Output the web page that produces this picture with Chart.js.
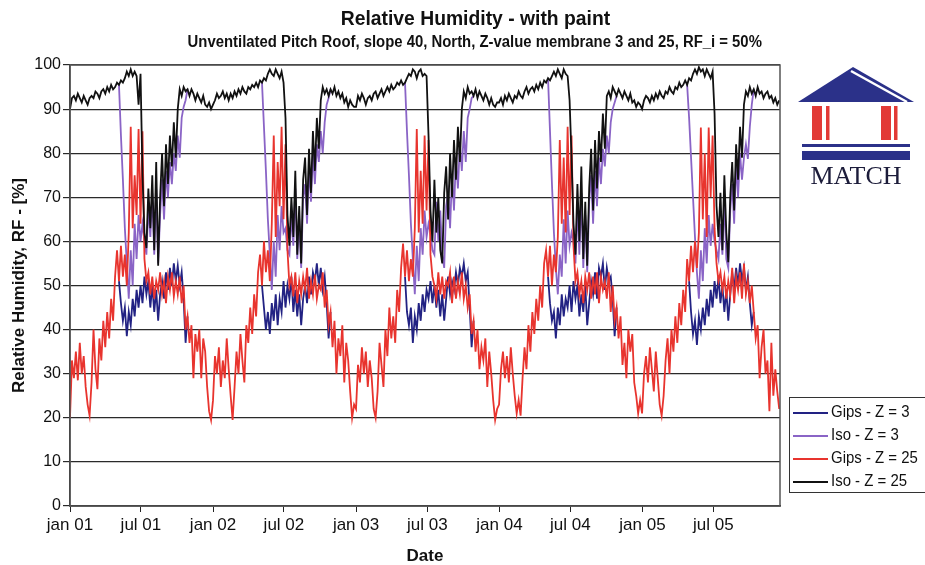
<!DOCTYPE html>
<html>
<head>
<meta charset="utf-8">
<script src="https://cdn.jsdelivr.net/npm/chart.js@4.4.1/dist/chart.umd.min.js"></script>
<style>
  body { margin: 0; background: #fff; }
  #wrap { position: relative; width: 925px; height: 565px; overflow: hidden; background: #fff;
          font-family: "Liberation Sans", Arial, sans-serif; color: #111; }
  #chart { position: absolute; left: 0; top: 0; }
  .title { position: absolute; left: 0; width: 950px; text-align: center; font-weight: bold; white-space: nowrap; }
  .title b { display: inline-block; }
  #t1 { top: 5px; font-size: 21px; line-height: 25px; }
  #t1 b { transform: scaleX(0.92); }
  #t2 { top: 32px; font-size: 16px; line-height: 19px; }
  #t2 b { transform: scaleX(0.93); }
  #legend { position: absolute; left: 789px; top: 397px; width: 150px; height: 96px; border: 1px solid #333;
            box-sizing: border-box; }
  .item { position: absolute; left: 3px; height: 20px; font-size: 17px; line-height: 20px; white-space: nowrap; }
  .item i { display: inline-block; width: 35px; height: 2px; vertical-align: middle; margin-right: 3px; }
  .item em { font-style: normal; display: inline-block; transform: scaleX(0.88); transform-origin: left center; }
  #logo { position: absolute; left: 0; top: 0; pointer-events: none; }
</style>
</head>
<body>
<div id="wrap">
  <canvas id="chart" width="925" height="565"></canvas>
  <div class="title" id="t1"><b>Relative Humidity - with paint</b></div>
  <div class="title" id="t2"><b>Unventilated Pitch Roof, slope 40, North, Z-value membrane 3 and 25, RF_i = 50%</b></div>
  <div id="legend"></div>
  <svg id="logo" width="925" height="565">
    <polygon points="798,102 853,67 914,102" fill="#2b3189"/>
    <line x1="851" y1="71" x2="907" y2="102" stroke="#fff" stroke-width="2.5"/>
    <rect x="812" y="106" width="10" height="34" fill="#e23a36"/>
    <rect x="826" y="106" width="3.5" height="34" fill="#e23a36"/>
    <rect x="881" y="106" width="10" height="34" fill="#e23a36"/>
    <rect x="894" y="106" width="3.5" height="34" fill="#e23a36"/>
    <rect x="802" y="144" width="108" height="3" fill="#2b3189"/>
    <rect x="802" y="151" width="108" height="9" fill="#2b3189"/>
    <text x="856" y="184" text-anchor="middle" font-family="Liberation Serif, serif" font-size="26" fill="#1c1c3a">MATCH</text>
  </svg>
</div>
<script>
// sampling step of the series, in days from 1 jan 01
const STEP = 5;

// x axis ticks (days from 1 jan 01) and their labels
const tickDays = [0, 181, 365, 546, 730, 912, 1096, 1277, 1461, 1642];
const tickLabels = ['jan 01', 'jul 01', 'jan 02', 'jul 02', 'jan 03', 'jul 03', 'jan 04', 'jul 04', 'jan 05', 'jul 05'];

const seriesNames = ['Gips - Z = 3', 'Iso - Z = 3', 'Gips - Z = 25', 'Iso - Z = 25'];
const seriesColors = ['#222283', '#8a64c6', '#e8342e', '#111111'];

// Iso - Z = 25 (black), one row per year
const isoZ25 = [
  90,92.5,93,92,93.5,92.5,91.5,93,92,91, 92.5,93,92.5,94,93.5,92.5,94,94.5,93.5,95, 94,95.5,94.5,95,96,95.5,96.5,96,97,98.5, 97.5,99,97.5,98.5,97.5,91,98,75,62,58.5, 72,63,75,58,78,54.5,70,80,68,82, 73,84,77,87,79,90,94.5,93,95,94, 94.5,93,94.5,93.5,92,93.5,92.5,91.5,93,91, 90.5,91.5,90,
  91,92,93.5,92.5,93,94,92.5,93.5,92,93.5, 92.5,94,93,94.5,93.5,95,94,93.5,95,94.5, 95.5,95,96,95,96.5,96,97,96.5,98,99, 98,97.5,99,98,97,98.5,96,88,66,59, 70,61,76,57,68,55,74,79,66,81, 71,85,76,88,81,92,95,93.5,94.5,93, 94.5,93.5,95,93,94,92.5,93.5,91.5,92.5,90.5, 92,91,90.5,
  90.5,93,92,93.5,92.5,91,92.5,93,92,93.5, 94,92.5,93.5,94.5,93,94,95,94,95.5,94.5, 95,96,95.5,96.5,95.5,96,97,98,97.5,99, 98.5,97,98.5,99,97.5,98,97.5,84,67,60, 74,62,70,58,55,71,77,65,80,70, 83,74,86,78,90,94,92.5,95,93.5,94, 93,94.5,92.5,94,93,92,93.5,92.5,91,92.5, 91,90.5,91.5,
  91.5,92.5,91,93,92,93.5,92.5,91.5,93,92.5, 94,93,92.5,94,95,93.5,94.5,95,94,95.5, 94.5,96,95,96.5,96,97,96.5,97.5,98.5,97.5, 99,98,97,99,98,97.5,92,79,64,57, 73,60,77,56,69,54.5,72,81,67,83, 72,85,78,89,81,93,94,92.5,95,94, 93,94.5,93.5,92.5,94,93,92,93.5,91.5,92, 90.5,91.5,91,
  90,92,93,92.5,91.5,93,92,93.5,92.5,94, 93,92.5,94,93.5,95,94,93.5,95,94.5,96, 95,95.5,96.5,95.5,97,96.5,98,99,98,99.5, 98.5,99,97.5,99,98,97,98.5,89,68,61, 71,58,75,62,55.3,70,78,67,82,74, 86,79,91,94,93,95,93.5,94.5,93,95, 93.5,94,92.5,93.5,94,92.5,93,91.5,92.5,91, 92
];

// Iso - Z = 3 (purple); null where it lies under Iso - Z = 25
const isoZ3 = [
  null,null,null,null,null,null,null,null,null,null, null,null,null,null,null,null,null,null,null,null, null,null,null,null,null,95.5,84,74,63,55, 47,58,50,64,56,66,60,64,60,57, 68,61,71,57,72,55,66,74,65,76, 70,78,73,80,76,84,79,88,90.5,92, 94.5,null,null,null,null,null,null,null,null,null, null,null,null,
  null,null,null,null,null,null,null,null,null,null, null,null,null,null,null,null,null,null,null,null, null,null,null,null,null,96,86,76,65,57, 49,60,52,66,58,68,62,63,58,57, 66,59,72,56,65,54,70,73,64,77, 69,80,73,82,78,85,80,87,91,92.5, 94.5,null,null,null,null,null,null,null,null,null, null,null,null,
  null,null,null,null,null,null,null,null,null,null, null,null,null,null,null,null,null,null,null,null, null,null,null,null,null,96,85,75,64,56, 48,59,51,63,57,67,61,64,62,58, 57,69,60,67,57,54,68,71,63,75, 67,79,72,82,76,85,78,88,90,92.5, 93,null,null,null,null,null,null,null,null,null, null,null,null,
  null,null,null,null,null,null,null,null,null,null, null,null,null,null,null,null,null,null,null,null, null,null,null,null,null,97,85,73,62,54, 48,57,52,65,55,67,59,62,60,55, 68,57,71,54,66,53,69,75,64,76, 68,79,73,81,77,84,80,87,90,91.5, 93,null,null,null,null,null,null,null,null,null, null,null,null,
  null,null,null,null,null,null,null,null,null,null, null,null,null,null,null,null,null,null,null,null, null,null,null,95.5,88,79,70,61,53,47, 58,51,63,55,66,59,64,60,58,56, 64,57,70,56,54,67,73,64,78,70, 80,74,79,82,78.7,86,91,94.5,null,null, null,null,null,null,null,null,null,null,null,null, null
];

// Gips - Z = 25 (red)
const gipsZ25 = [
  20,33,29,35,28.5,37,30,34,27,23, 20.5,28,40,31,26.5,38,33,42,36,44, 38,47,42,52,58,51,59,52,57,50, 62,86,63,75,66,85.5,64,85,56,51, 53,48,52,47,51,49,53,48,51,46, 52,49,53,47.5,51,48,52,46,50,40, 43,37,41,29,39,35,40,29,38,35, 27,21.5,19.5,
  24,34,30,36,27,33,29,38,31,25, 19.5,27,35,30,39,33,28,41,37,45, 39,48,43,53,57,50,60,53,58,51, 64,84,61,78,68,86,65,82,58,50, 52,47.5,53,46,51,48,52,49,54,47, 51,48,52.5,47,50,49,53,45,49,41, 44,36,42,30,38,34,41,28,37,33, 26,20,23,
  22,32,28,36,30,35,27,33,29,22, 20,26,37,32,27,40,34,45,38,43, 37,49,44,54,59.5,52,58,51,56,52, 63,85.5,62,76,64,84,67,83,57,52, 50,47,53,48,52,47,51,50,53,46, 52,47,51,48,53,47,50,45,48,39, 42,35,40,31,36,33,38,27,35,30, 24,19.5,22,
  23,31,35,29,34,28,36,30,25,21, 24,20.5,29,36,31,41,35,44,39,47, 42,50,45,55,58,52,59,50,57,53, 61,83,64,79,62,86,66,84,59,51, 53,48,51,46,52,49,53,47,52,48, 53,46,52,49,51,47,53,44,50,42, 45,38,43,32,37,29,40,35,39,28, 25,21,24,
  21,30,34,28,36,31,26,35,29,23, 20.5,25,33,38,30,40,35,43,37,46, 41,49,44,56,51,59,53,60,54,62, 85.8,65,80,61,85.8,70,84,63,55,51, 53,49,52,47,51,48,54,46,52,49, 53,47,55,48,51,46,50,44,38,41, 29,36,40,30,33,21.5,37,25,31,26, 22
];

// Gips - Z = 3 (navy); null where it lies under Gips - Z = 25
const gipsZ3 = [
  null,null,null,null,null,null,null,null,null,null, null,null,null,null,null,null,null,null,null,null, null,null,null,null,null,51,46,42,45,38.5, 44,41,47,43,49,45,50,46,52,48, 51,45,50,44,49,42,48,51,47,53, 49,54,50,55,51,54.5,50,53,47,37, 43,null,null,null,null,null,null,null,null,null, null,null,null,
  null,null,null,null,null,null,null,null,null,null, null,null,null,null,null,null,null,null,null,null, null,null,null,null,null,50,45,40,44,39, 46,42,48,41,47,44,51,45,50,47, 52,44,49,43,48,41,47,50,46,52, 48,53,51,55,50,54,49,52,46,38, 44,null,null,null,null,null,null,null,null,null, null,null,null,
  null,null,null,null,null,null,null,null,null,null, null,null,null,null,null,null,null,null,null,null, null,null,null,null,null,52,44,41,45,37, 43,40,46,42,48,44,49,47,51,46, 50,45,49,43,48,42,47,52,48,51, 49,53,50,54,52,55,51,53,45,36, 42,null,null,null,null,null,null,null,null,null, null,null,null,
  null,null,null,null,null,null,null,null,null,null, null,null,null,null,null,null,null,null,null,null, null,null,null,null,null,52,46,42,44,38, 45,41,48,43,47,45,50,44,51,47, 50,43,48,44,50,41,46,51,48,53, 47,54,52,55,49,54,51,52,47,38.5, 45,null,null,null,null,null,null,null,null,null, null,null,null,
  null,null,null,null,null,null,null,null,null,null, null,null,null,null,null,null,null,null,null,null, null,null,null,null,51,44,39,42,36.5,43, 40,45,41,47,43,49,45,51,47,52, 46,50,44,49,42,48,53,49,54,50, 55,51,54,49,52,46,41,44,null,null, null,null,null,null,null,null,null,null,null,null, null
];

const toPoints = (arr) => arr.map((v, i) => ({ x: i * STEP, y: v }));

const FONT = "'Liberation Sans', Arial, sans-serif";

// plot frame on top/right
const framePlugin = {
    id: 'frame',
    afterDraw(chart) {
        const { ctx, chartArea: a } = chart;
        ctx.save();
        ctx.strokeStyle = '#555';
        ctx.lineWidth = 1.5;
        ctx.strokeRect(a.left, a.top, a.right - a.left, a.bottom - a.top);
        ctx.restore();
    }
};

const allSeries = [gipsZ3, isoZ3, gipsZ25, isoZ25];
const drawOrder = [4, 3, 2, 1]; // black on top, navy at bottom

new Chart(document.getElementById('chart'), {
    type: 'line',
    data: {
        datasets: allSeries.map((arr, k) => ({
            label: seriesNames[k],
            data: toPoints(arr),
            borderColor: seriesColors[k],
            backgroundColor: seriesColors[k],
            borderWidth: 1.8,
            pointRadius: 0,
            tension: 0,
            spanGaps: false,
            order: drawOrder[k]
        }))
    },
    options: {
        responsive: false,
        animation: false,
        devicePixelRatio: 1,
        layout: { padding: { top: 65, right: 145, left: 0, bottom: 0 } },
        plugins: { legend: { display: false }, tooltip: { enabled: false } },
        scales: {
            x: {
                type: 'linear',
                min: 0,
                max: 1812,
                afterFit: (s) => { s.height = 59; },
                afterBuildTicks: (s) => { s.ticks = tickDays.map(v => ({ value: v })); },
                grid: { drawOnChartArea: false, drawTicks: true, tickLength: 6, color: '#222', lineWidth: 1 },
                border: { display: true, color: '#222', width: 1.5 },
                ticks: {
                    autoSkip: false, maxRotation: 0, padding: 3, color: '#111',
                    font: { family: FONT, size: 17 },
                    callback: (v) => tickLabels[tickDays.indexOf(v)]
                },
                title: { display: true, text: 'Date', color: '#111', padding: { top: 0, bottom: 0 },
                         font: { family: FONT, size: 17, weight: 'bold', lineHeight: 1 } }
            },
            y: {
                min: 0,
                max: 100,
                afterFit: (s) => { s.width = 70; },
                grid: { color: '#2a2a2a', lineWidth: 1.2, tickLength: 7 },
                border: { display: true, color: '#222', width: 1.5 },
                ticks: { stepSize: 10, padding: 2, color: '#111', font: { family: FONT, size: 16 } },
                title: { display: true, text: 'Relative Humidity, RF - [%]', color: '#111',
                         padding: { top: 11, bottom: 0 },
                         font: { family: FONT, size: 17, weight: 'bold', lineHeight: 1 } }
            }
        }
    },
    plugins: [framePlugin]
});

// legend box
const legend = document.getElementById('legend');
const legendTops = [4, 27, 50, 73];
seriesNames.forEach((name, k) => {
    const d = document.createElement('div');
    d.className = 'item';
    d.style.top = legendTops[k] + 'px';
    d.innerHTML = `<i style="background:${seriesColors[k]}"></i><em>${name}</em>`;
    legend.appendChild(d);
});
</script>
</body>
</html>
